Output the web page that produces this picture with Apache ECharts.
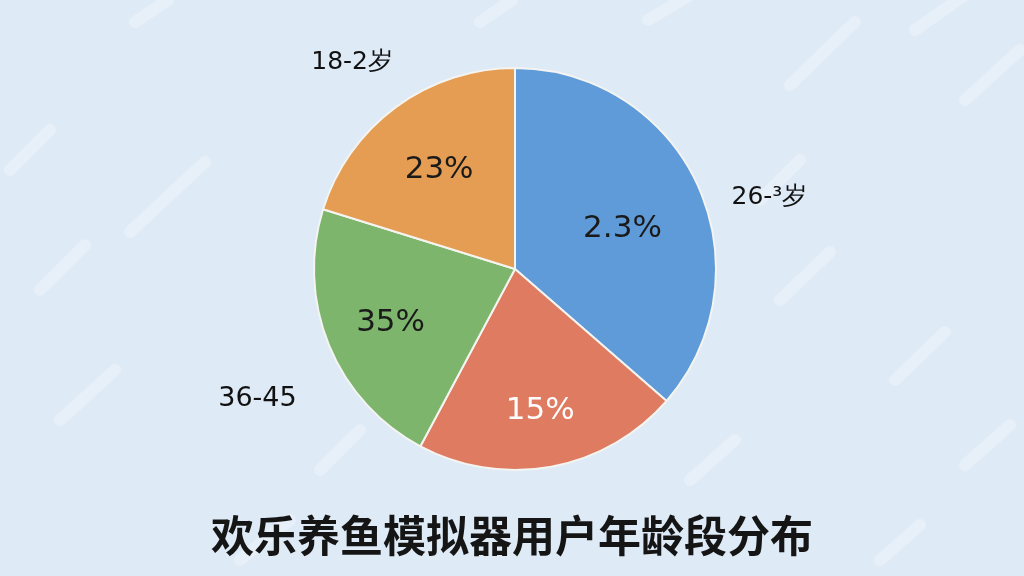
<!DOCTYPE html>
<html>
<head>
<meta charset="utf-8">
<script src="https://cdn.jsdelivr.net/npm/echarts@6/dist/echarts.min.js"></script>
<style>
html,body{margin:0;padding:0;background:#deeaf6;}
#chart{width:1024px;height:576px;}
</style>
</head>
<body>
<div id="chart"></div>
<script>
// Data (slice shares)
const categories = ['26-³岁', '15%组', '36-45', '18-2岁'];
const outerLabels = ['26-³岁', '', '36-45', '18-2岁'];
const innerLabels = ['2.3%', '15%', '35%', '23%'];
const values = [36.4, 21.4, 22.0, 20.2];
const title = '欢乐养鱼模拟器用户年龄段分布';

// Styling
const colors = ['#5f9bd8', '#de7b61', '#7db56d', '#e49d52'];
const innerLabelColors = ['#1a1a1a', '#ffffff', '#1a1a1a', '#1a1a1a'];
const innerOffsets = [[-9, 13], [2, 16], [-6, 5], [0, 4]];
const outerOffsets = [[6, 42], [0, 0], [-5, 26], [-1, 13]];
const outerSizes = [25, 25, 27, 25];

const center = [515, 269];

const mainData = values.map((v, i) => ({
  name: categories[i], value: v,
  itemStyle: { color: colors[i] }
}));
const innerData = values.map((v, i) => ({
  name: categories[i], value: v,
  label: { formatter: innerLabels[i], color: innerLabelColors[i], offset: innerOffsets[i] }
}));
const outerData = values.map((v, i) => ({
  name: categories[i], value: v,
  label: { formatter: outerLabels[i], offset: outerOffsets[i], fontSize: outerSizes[i] }
}));

const streaks = [
  [135,22,168,0],[480,22,512,0],[648,20,690,-5],[790,85,855,22],[965,100,1020,50],
  [915,30,965,-5],[130,232,205,162],[40,290,85,245],[895,380,945,332],[965,465,1010,425],
  [60,420,115,370],[780,300,830,252],[240,560,290,520],[880,560,920,525],[320,470,360,430],
  [690,480,735,440],[10,170,50,130],[760,200,800,160]
];

const chart = echarts.init(document.getElementById('chart'));
chart.setOption({
  backgroundColor: '#deeaf6',
  animation: false,
  graphic: streaks.map(s => ({
    type: 'line', silent: true, z: 0,
    shape: { x1: s[0], y1: s[1], x2: s[2], y2: s[3] },
    style: { stroke: 'rgba(255,255,255,0.28)', lineWidth: 12, lineCap: 'round' }
  })),
  title: {
    text: title, left: 'center', top: 509,
    textStyle: { fontFamily: 'Noto Sans CJK SC', fontSize: 43, fontWeight: 'bold', color: '#151515' }
  },
  series: [
    {
      type: 'pie', center: center, radius: 201, startAngle: 90, clockwise: true,
      data: mainData, label: { show: false }, labelLine: { show: false },
      itemStyle: { borderColor: '#f4f4f0', borderWidth: 2 }, silent: true, z: 2
    },
    {
      type: 'pie', center: center, radius: [0, 250], startAngle: 90, clockwise: true,
      data: innerData, silent: true, z: 3,
      itemStyle: { color: 'rgba(0,0,0,0)' },
      label: { show: true, position: 'inside', fontFamily: 'DejaVu Sans', fontSize: 31 },
      labelLine: { show: false }
    },
    {
      type: 'pie', center: center, radius: [250, 290], startAngle: 90, clockwise: true,
      data: outerData, silent: true, z: 3,
      itemStyle: { color: 'rgba(0,0,0,0)' },
      label: { show: true, position: 'inside', fontFamily: 'DejaVu Sans', fontSize: 25, color: '#111' },
      labelLine: { show: false }
    }
  ]
});
</script>
</body>
</html>
